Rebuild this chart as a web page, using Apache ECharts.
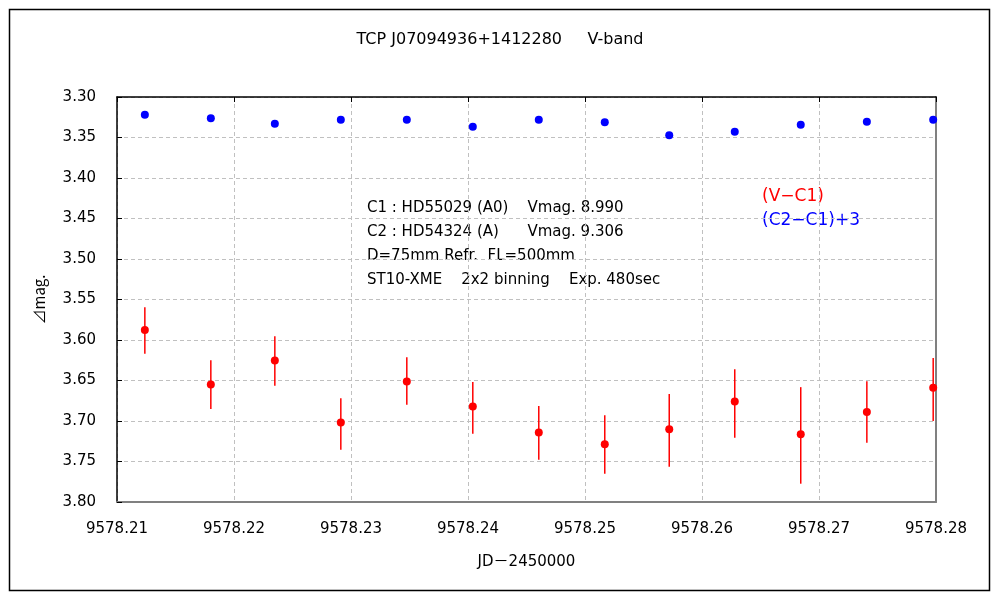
<!DOCTYPE html>
<html><head><meta charset="utf-8">
<script src="https://cdn.jsdelivr.net/npm/echarts@6/dist/echarts.min.js"></script>
<style>html,body{margin:0;padding:0;background:#fff}#c{width:1000px;height:600px}</style>
</head><body><div id="c"></div>
<script>
var jd = [9578.21238, 9578.21802, 9578.22349, 9578.22913, 9578.23477, 9578.24041, 9578.24605, 9578.25169, 9578.25720, 9578.26280, 9578.26844, 9578.27409, 9578.27976];
var vMinusC1 = [3.5876, 3.6549, 3.6253, 3.7017, 3.6512, 3.6820, 3.7141, 3.7288, 3.7103, 3.6758, 3.7165, 3.6890, 3.6590];
var vErrLow = [3.5596, 3.6249, 3.5953, 3.6718, 3.6212, 3.6520, 3.6816, 3.6928, 3.6668, 3.6360, 3.6582, 3.6508, 3.6221];
var vErrHigh = [3.6171, 3.6853, 3.6566, 3.7355, 3.6800, 3.7158, 3.7478, 3.7651, 3.7564, 3.7207, 3.7774, 3.7269, 3.7001];
var c2MinusC1 = [3.3219, 3.3261, 3.3330, 3.3281, 3.3281, 3.3367, 3.3281, 3.3311, 3.3471, 3.3429, 3.3343, 3.3306, 3.3281];
var xTicks = [9578.21, 9578.22, 9578.23, 9578.24, 9578.25, 9578.26, 9578.27, 9578.28];
var yTicks = [3.30, 3.35, 3.40, 3.45, 3.50, 3.55, 3.60, 3.65, 3.70, 3.75, 3.80];

var FONT = '"DejaVu Sans", "Noto Sans CJK JP", sans-serif';
var JFONT = '"Noto Sans CJK JP", "DejaVu Sans", sans-serif';
var chart = echarts.init(document.getElementById('c'));
var errData = jd.map(function(x, i){ return [x, vErrLow[i], vErrHigh[i]]; });
var option = {
  backgroundColor: '#fff',
  animation: false,
  grid: {left: 117, right: 64, top: 97, bottom: 98, containLabel: false},
  title: {text: 'TCP J07094936+1412280     V-band', left: 'center', top: 27,
    textStyle: {fontFamily: FONT, fontSize: 16, fontWeight: 'normal', color: '#000'}},
  xAxis: [{
    type: 'value', min: xTicks[0], max: xTicks[xTicks.length - 1], interval: 0.01, position: 'bottom',
    name: 'JD－2450000', nameLocation: 'middle', nameGap: 53,
    nameTextStyle: {fontFamily: FONT, fontSize: 15, color: '#000'},
    axisLine: {show: true, lineStyle: {color: '#808080', width: 2}},
    axisTick: {show: false},
    axisLabel: {fontFamily: FONT, fontSize: 15, color: '#000', margin: 20,
      formatter: function(v){ return v.toFixed(2); }},
    splitLine: {show: true, lineStyle: {color: '#c0c0c0', type: [4, 3], width: 1}}
  }, {
    type: 'value', min: xTicks[0], max: xTicks[xTicks.length - 1], interval: 0.01, position: 'top',
    axisLine: {show: true, onZero: false, lineStyle: {color: '#000', width: 1.5}},
    axisTick: {show: true, inside: true, length: 5, lineStyle: {color: '#000'}},
    axisLabel: {show: false}, splitLine: {show: false}
  }],
  yAxis: [{
    type: 'value', inverse: true, min: yTicks[0], max: yTicks[yTicks.length - 1], interval: 0.05, position: 'left',
    name: '⊿mag.', nameLocation: 'middle', nameGap: 70, nameRotate: 90,
    nameTextStyle: {fontFamily: JFONT, fontSize: 15, color: '#000'},
    axisLine: {show: true, lineStyle: {color: '#000', width: 1.5}},
    axisTick: {show: true, inside: true, length: 5, lineStyle: {color: '#000'}},
    axisLabel: {fontFamily: FONT, fontSize: 15, color: '#000', margin: 21,
      formatter: function(v){ return v.toFixed(2); }},
    splitLine: {show: true, lineStyle: {color: '#c0c0c0', type: [4, 3], width: 1}}
  }, {
    type: 'value', inverse: true, min: yTicks[0], max: yTicks[yTicks.length - 1], interval: 0.05, position: 'right',
    axisLine: {show: true, onZero: false, lineStyle: {color: '#808080', width: 2}},
    axisTick: {show: false}, axisLabel: {show: false}, splitLine: {show: false}
  }],
  series: [{
    type: 'custom', name: 'err', xAxisIndex: 0, yAxisIndex: 0,
    renderItem: function(params, api){
      var x = api.value(0);
      var p1 = api.coord([x, api.value(1)]);
      var p2 = api.coord([x, api.value(2)]);
      return {type: 'line', shape: {x1: p1[0], y1: p1[1], x2: p2[0], y2: p2[1]},
        style: {stroke: '#ff0000', lineWidth: 1.5}};
    },
    data: errData, z: 2
  }, {
    type: 'scatter', name: '(V−C1)', symbol: 'circle', symbolSize: 8,
    itemStyle: {color: '#ff0000', opacity: 1},
    data: jd.map(function(x, i){ return [x, vMinusC1[i]]; }), z: 3
  }, {
    type: 'scatter', name: '(C2−C1)+3', symbol: 'circle', symbolSize: 8,
    itemStyle: {color: '#0000ff', opacity: 1},
    data: jd.map(function(x, i){ return [x, c2MinusC1[i]]; }), z: 3
  }],
  graphic: [
    {type: 'rect', shape: {x: 9.5, y: 9.5, width: 980, height: 581},
      style: {fill: 'none', stroke: '#000', lineWidth: 1.5}, silent: true},
    {type: 'text', left: 367, top: 201, style: {text: 'C1 : HD55029 (A0)    Vmag. 8.990', font: '15px ' + FONT, fill: '#000'}},
    {type: 'text', left: 367, top: 225, style: {text: 'C2 : HD54324 (A)      Vmag. 9.306', font: '15px ' + FONT, fill: '#000'}},
    {type: 'text', left: 367, top: 249, style: {text: 'D=75mm Refr.  FL=500mm', font: '15px ' + FONT, fill: '#000'}},
    {type: 'text', left: 367, top: 273, style: {text: 'ST10-XME    2x2 binning    Exp. 480sec', font: '15px ' + FONT, fill: '#000'}},
    {type: 'text', left: 762, top: 188, style: {text: '(V−C1)', font: '17px ' + FONT, fill: '#ff0000'}},
    {type: 'text', left: 762, top: 212, style: {text: '(C2−C1)+3', font: '17px ' + FONT, fill: '#0000ff'}}
  ]
};
chart.setOption(option);
</script>
</body></html>
